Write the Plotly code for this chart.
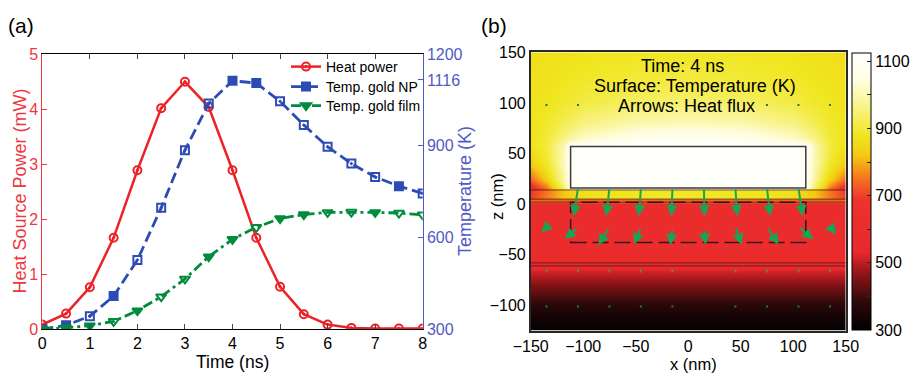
import plotly.graph_objects as go

# ---------------- Panel (a) data ----------------
time_ns = [0, 0.5, 1, 1.5, 2, 2.5, 3, 3.5, 4, 4.5, 5, 5.5, 6, 6.5, 7, 7.5, 8]
heat_power_mw = [0.08, 0.28, 0.76, 1.66, 2.89, 4.02, 4.50, 4.04, 2.89, 1.66, 0.77, 0.27, 0.08, 0.02, 0.01, 0.01, 0.01]
temp_gold_np = [300, 312, 342, 408, 526, 697, 886, 1039, 1113, 1106, 1046, 968, 897, 842, 798, 768, 744]
temp_gold_film = [300, 304, 311, 325, 360, 406, 464, 537, 594, 633, 662, 675, 682, 683, 682, 680, 674]
left_ticks = [0, 1, 2, 3, 4, 5]
right_ticks = [300, 600, 900, 1116, 1200]
x_ticks_a = [0, 1, 2, 3, 4, 5, 6, 7, 8]

# ---------------- Panel (b) data ----------------
grid_x = [-150, -135, -120, -112, -100, -50, 0, 50, 100, 112, 120, 135, 150]
grid_z = [-125, -110, -95, -80, -66, -61, -59, 1, 2, 4.5, 5.5, 13.5, 16, 25, 40, 57, 65, 80, 100, 125, 150]
temperature_k = [
    [310] * 13,
    [340] * 13,
    [395] * 13,
    [455] * 13,
    [515] * 13,
    [560] * 13,
    [600] * 13,
    [600] * 13,
    [735] * 13,
    [735] * 13,
    [700, 760, 820, 840, 865, 880, 885, 880, 865, 840, 820, 760, 700],
    [690, 750, 815, 840, 865, 880, 885, 880, 865, 840, 815, 750, 690],
    [650, 750, 930, 1080, 1110, 1110, 1110, 1110, 1110, 1080, 930, 750, 650],
    [740, 835, 980, 1090, 1110, 1110, 1110, 1110, 1110, 1090, 980, 835, 740],
    [830, 890, 1000, 1090, 1110, 1110, 1110, 1110, 1110, 1090, 1000, 890, 830],
    [865, 905, 1000, 1090, 1110, 1110, 1110, 1110, 1110, 1090, 1000, 905, 865],
    [870, 900, 960, 990, 1020, 1070, 1080, 1070, 1020, 990, 960, 900, 870],
    [872, 890, 920, 935, 960, 1000, 1010, 1000, 960, 935, 920, 890, 872],
    [870, 878, 890, 898, 910, 935, 945, 935, 910, 898, 890, 878, 870],
    [866, 870, 876, 880, 886, 898, 905, 898, 886, 880, 876, 870, 866],
    [862, 865, 868, 870, 874, 880, 884, 880, 874, 870, 868, 865, 862],
]
cbar_ticks = [300, 400, 500, 600, 700, 800, 900, 1000, 1100]
cbar_labels = ["300", "", "500", "", "700", "", "900", "", "1100"]
x_ticks_b = [-150, -100, -50, 0, 50, 100, 150]
z_ticks_b = [-100, -50, 0, 50, 100, 150]

# geometry (nm)
np_box = [-112, 16, 112, 57]          # x0, z0, x1, z1 of the gold nanoparticle
dashed_box = [-112, -38, 112, 2]
layer_lines_z = [14, 5, 2, -58, -61]

# heat-flux arrows: tail (x, z) and vector (u, w) in nm
arrow_x = [-105, -75, -45, -15, 15, 45, 75, 105,
           -135, -105, -75, -45, -15, 15, 45, 75, 105, 135]
arrow_z = [16, 16, 16, 16, 16, 16, 16, 16,
           -23, -23, -23, -23, -24, -25, -22, -22, -22, -22]
arrow_u = [-4, -3, -2, -1, 0.5, 1.6, 3, 4,
           -5, -12.6, -10.5, -6.3, -2, 1.6, 5.7, 11, 14, 6]
arrow_w = [-28, -28, -28, -28, -28, -28, -28, -28,
           -5, -11.5, -17.4, -16.5, -16.5, -15, -18, -18, -13, -8]
tick_arrow_x = [-135, -105, -75, -45, -15, 45, 75, 105, 135]
tick_arrow_z = [-63] * 9
tick_arrow_w = [-4.5] * 9
dot_x = [-135, -105, -75, -45, -15, 45, 75, 105, 135, -135, -105, 75, 105, 135]
dot_z = [-101] * 9 + [98] * 5

# ---------------- styles ----------------
FONT = "Liberation Sans, Arial, sans-serif"
RED = "rgb(235,35,40)"
RED_TXT = "rgb(238,55,60)"
BLUE = "rgb(45,75,180)"
BLUE_TXT = "rgb(80,90,195)"
GREEN = "rgb(0,140,60)"
ARROW_GREEN = "rgb(20,165,85)"

def px_x(p):
    return p / 912.0

def px_y(p):
    return 1 - p / 373.0

dom_a_x = [px_x(42.3), px_x(422.7)]
dom_a_y = [px_y(329), px_y(54.3)]
dom_b_x = [px_x(530.7), px_x(845.7)]
dom_b_y = [px_y(330.7), px_y(52.3)]

fig = go.Figure()

red_sym = ["circle-open-dot"] * len(time_ns)
blue_sym = ["square", "square", "square-open-dot", "square", "square-open-dot",
            "square-open-dot", "square-open-dot", "square-open-dot", "square", "square",
            "square-open-dot", "square-open-dot", "square-open-dot", "square-open-dot",
            "square-open-dot", "square", "square-open-dot"]
green_sym = ["triangle-down", "triangle-down", "triangle-down", "triangle-down-open",
             "triangle-down", "triangle-down-open", "triangle-down-open", "triangle-down",
             "triangle-down", "triangle-down-open", "triangle-down", "triangle-down",
             "triangle-down-open", "triangle-down-open", "triangle-down", "triangle-down-open",
             "triangle-down-open"]

fig.add_trace(go.Scatter(
    x=time_ns, y=heat_power_mw, name="Heat power", mode="lines+markers",
    line=dict(color=RED, width=2.5),
    marker=dict(symbol=red_sym, size=8, color=RED, line=dict(color=RED, width=2)),
    xaxis="x", yaxis="y", legend="legend"))
fig.add_trace(go.Scatter(
    x=time_ns, y=temp_gold_np, name="Temp. gold NP", mode="lines+markers",
    line=dict(color=BLUE, width=2.8, dash="11px,5px"),
    marker=dict(symbol=blue_sym, size=8, color=BLUE, line=dict(color=BLUE, width=2)),
    xaxis="x", yaxis="y2", legend="legend2"))
fig.add_trace(go.Scatter(
    x=time_ns, y=temp_gold_film, name="Temp. gold film", mode="lines+markers",
    line=dict(color=GREEN, width=2.8, dash="10px,4px,3px,4px"),
    marker=dict(symbol=green_sym, size=9, color=GREEN, line=dict(color=GREEN, width=2)),
    xaxis="x", yaxis="y2", legend="legend3"))

hot_scale = [
    [0.0, "rgb(0,0,0)"],
    [0.1, "rgb(45,8,10)"],
    [0.2, "rgb(140,20,25)"],
    [0.28, "rgb(232,40,45)"],
    [0.47, "rgb(238,50,45)"],
    [0.55, "rgb(245,120,30)"],
    [0.63, "rgb(245,200,20)"],
    [0.70, "rgb(240,230,30)"],
    [0.82, "rgb(250,245,150)"],
    [0.9, "rgb(255,253,225)"],
    [0.97, "rgb(255,255,250)"],
    [1.0, "rgb(255,255,255)"],
]

fig.add_trace(go.Heatmap(
    x=grid_x, y=grid_z, z=temperature_k, zsmooth="best",
    colorscale=hot_scale, zmin=300, zmax=1125,
    xaxis="x2", yaxis="y3", hoverinfo="skip",
    colorbar=dict(
        x=px_x(852), xanchor="left", thickness=18.7, thicknessmode="pixels",
        y=px_y(330), yanchor="bottom", len=(330 - 52.7) / 373.0, lenmode="fraction",
        outlinecolor="black", outlinewidth=1,
        tickvals=cbar_ticks, ticktext=cbar_labels, ticks="inside", ticklen=4,
        tickcolor="rgb(40,40,40)",
        tickfont=dict(family=FONT, size=16, color="black"), xpad=0, ypad=0,
    ),
))

fig.add_trace(go.Scatter(
    x=dot_x, y=dot_z, mode="markers", showlegend=False, hoverinfo="skip",
    marker=dict(symbol="square", size=2, color="rgb(40,120,60)"),
    xaxis="x2", yaxis="y3"))

shapes = []
for zl in layer_lines_z:
    shapes.append(dict(type="line", xref="x2", yref="y3", x0=-150, x1=150, y0=zl, y1=zl,
                       line=dict(color="rgba(70,20,20,0.75)", width=1)))
shapes.append(dict(type="rect", xref="x2", yref="y3",
                   x0=np_box[0], y0=np_box[1], x1=np_box[2], y1=np_box[3],
                   line=dict(color="rgb(60,60,60)", width=1.5)))
shapes.append(dict(type="rect", xref="x2", yref="y3",
                   x0=dashed_box[0], y0=dashed_box[1], x1=dashed_box[2], y1=dashed_box[3],
                   line=dict(color="rgb(50,20,20)", width=1.5, dash="16px,6px")))

annotations = []
for x0, z0, u, w in zip(arrow_x, arrow_z, arrow_u, arrow_w):
    annotations.append(dict(
        x=x0 + u, y=z0 + w, ax=x0, ay=z0, xref="x2", yref="y3", axref="x2", ayref="y3",
        showarrow=True, arrowhead=2, arrowsize=1.1, arrowwidth=2, arrowcolor=ARROW_GREEN, text=""))
for x0, z0, w in zip(tick_arrow_x, tick_arrow_z, tick_arrow_w):
    annotations.append(dict(
        x=x0, y=z0 + w, ax=x0, ay=z0, xref="x2", yref="y3", axref="x2", ayref="y3",
        showarrow=True, arrowhead=0, arrowwidth=2, arrowcolor="rgb(90,140,60)", text=""))


def paper_text(text, x, y, size, color="black", angle=0):
    return dict(text=text, x=px_x(x), y=px_y(y), xref="paper", yref="paper",
                xanchor="center", yanchor="middle", showarrow=False, textangle=angle,
                font=dict(family=FONT, size=size, color=color))


annotations += [
    paper_text("(a)", 21, 25, 21),
    paper_text("(b)", 494, 25, 21),
    paper_text("Time (ns)", 232, 362, 17.5),
    paper_text("Heat Source Power (mW)", 19.5, 191, 18, RED_TXT, -90),
    paper_text("Temperature (K)", 465, 191, 18, BLUE_TXT, -90),
    paper_text("x (nm)", 693, 364, 16.5),
    paper_text("z (nm)", 497, 196, 16.5, "black", -90),
    dict(text="Time: 4 ns", x=-5, y=136, xref="x2", yref="y3", showarrow=False,
         font=dict(family=FONT, size=18, color="black")),
    dict(text="Surface: Temperature (K)", x=6, y=117, xref="x2", yref="y3", showarrow=False,
         font=dict(family=FONT, size=18, color="black")),
    dict(text="Arrows: Heat flux", x=-2, y=97, xref="x2", yref="y3", showarrow=False,
         font=dict(family=FONT, size=18, color="black")),
]

legend_common = dict(xanchor="left", yanchor="middle", bgcolor="rgba(255,255,255,0)",
                     font=dict(family=FONT, size=14, color="black"), itemwidth=30,
                     borderwidth=0)

fig.update_layout(
    width=912, height=373, margin=dict(l=0, r=0, t=0, b=0, autoexpand=False),
    paper_bgcolor="white", plot_bgcolor="white",
    font=dict(family=FONT, size=16, color="black"),
    showlegend=True,
    legend=dict(x=px_x(286), y=px_y(67), **legend_common),
    legend2=dict(x=px_x(286), y=px_y(87), **legend_common),
    legend3=dict(x=px_x(286), y=px_y(106), **legend_common),
    xaxis=dict(domain=dom_a_x, range=[0, 8], tickvals=x_ticks_a, ticks="inside", ticklen=5,
               showline=True, linecolor="black", linewidth=1, mirror="ticks", showgrid=False,
               zeroline=False, anchor="y", tickfont=dict(size=16), automargin=False),
    yaxis=dict(domain=dom_a_y, range=[0, 5], tickvals=left_ticks, ticks="inside", ticklen=5,
               showline=True, linecolor=RED_TXT, linewidth=1, showgrid=False, zeroline=False,
               tickcolor=RED_TXT, tickfont=dict(size=16, color=RED_TXT), anchor="x",
               automargin=False),
    yaxis2=dict(range=[300, 1200], tickvals=right_ticks, ticks="inside", ticklen=5,
                overlaying="y", side="right", anchor="x", automargin=False,
                showline=True, linecolor=BLUE_TXT, linewidth=1, showgrid=False, zeroline=False,
                tickcolor=BLUE_TXT, tickfont=dict(size=16, color=BLUE_TXT)),
    xaxis2=dict(domain=dom_b_x, range=[-150, 150], tickvals=x_ticks_b, ticks="",
                showline=True, linecolor="rgb(40,40,40)", linewidth=1.5, mirror=True,
                showgrid=False, zeroline=False, anchor="y3", tickfont=dict(size=16),
                automargin=False),
    yaxis3=dict(domain=dom_b_y, range=[-125, 150], tickvals=z_ticks_b, ticks="",
                showline=True, linecolor="rgb(40,40,40)", linewidth=1.5, mirror=True,
                showgrid=False, zeroline=False, anchor="x2", tickfont=dict(size=16),
                automargin=False),
    shapes=shapes,
    annotations=annotations,
)

fig.write_html("out.html", config={"displayModeBar": False},
               post_script="document.body.style.margin='0px';")
